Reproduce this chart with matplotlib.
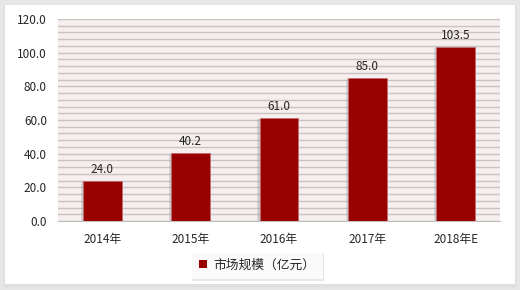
import matplotlib
matplotlib.use("Agg")
import matplotlib.pyplot as plt
import matplotlib.patheffects as pe
from matplotlib.patches import Rectangle
import numpy as np

plt.rcParams['font.family'] = ['Noto Sans CJK SC', 'DejaVu Sans']

categories = ['2014年', '2015年', '2016年', '2017年', '2018年E']
values = [24.0, 40.2, 61.0, 85.0, 103.5]
series_name = '市场规模（亿元）'
yticks = [0, 20, 40, 60, 80, 100, 120]

W, H = 520, 290
fig = plt.figure(figsize=(W / 100, H / 100), dpi=100)
fig.patch.set_facecolor('#e6e6e6')

# white card with soft shadow
for i, a in enumerate([0.05, 0.05, 0.06]):
    fig.patches.append(Rectangle((5 / W - i / W, 5 / H - (i + 1) / H), (510 + 2 * i) / W, (279 + 2 * i) / H,
                                 transform=fig.transFigure, facecolor='#bdbdbd', alpha=a,
                                 edgecolor='none', zorder=0))
fig.patches.append(Rectangle((5 / W, 6 / H), 510 / W, 279 / H, transform=fig.transFigure,
                             facecolor='white', edgecolor='none', zorder=0.5))

ax = fig.add_axes([58 / W, 1 - 221 / H, 442 / W, 202 / H])
ax.set_facecolor('#f7eeee')
ax.set_zorder(1)

for y in np.arange(0, 121, 4):
    ax.axhline(y, color='#c9c4c4', lw=1.0, zorder=1)

x = np.arange(len(categories))
bars = ax.bar(x, values, width=0.44, color='#990000', edgecolor='#c07070', linewidth=0.6, zorder=3)
for b in bars:
    b.set_path_effects([pe.SimplePatchShadow(offset=(-1.5, -0.8), shadow_rgbFace='#888888', alpha=0.2),
                        pe.SimplePatchShadow(offset=(-0.8, -0.4), shadow_rgbFace='#888888', alpha=0.2),
                        pe.Normal()])

for xi, v in zip(x, values):
    ax.text(xi, v + 3, f'{v:.1f}', ha='center', va='bottom', fontsize=8.5, color='#262626', zorder=4)

ax.set_xlim(-0.5, len(categories) - 0.5)
ax.set_ylim(0, 120)
ax.set_yticks(yticks)
ax.set_yticklabels([f'{t:.1f}' for t in yticks])
ax.set_xticks(x)
ax.set_xticklabels(categories)
ax.tick_params(axis='both', length=0, labelsize=8.5, colors='#262626')
ax.tick_params(axis='x', pad=9)
ax.tick_params(axis='y', pad=8)
for s in ['top', 'right', 'left']:
    ax.spines[s].set_visible(False)
ax.spines['bottom'].set_color('#bfbfbf')
ax.spines['bottom'].set_zorder(5)

handle = Rectangle((0, 0), 1, 1, facecolor='#990000', edgecolor='none')
leg = fig.legend([handle], [series_name], loc='center', bbox_to_anchor=(257 / W, 1 - 265 / H),
                 frameon=True, fontsize=9.2, handlelength=0.65, handleheight=0.65,
                 handletextpad=0.45, borderpad=0.6, fancybox=False)
leg.get_frame().set_edgecolor('none')
leg.get_frame().set_path_effects([pe.SimplePatchShadow(offset=(0.8, -1.2), shadow_rgbFace='#bbbbbb', alpha=0.35),
                                  pe.Normal()])
for t in leg.get_texts():
    t.set_color('#262626')

fig.savefig('out.png', dpi=100, facecolor=fig.get_facecolor())
